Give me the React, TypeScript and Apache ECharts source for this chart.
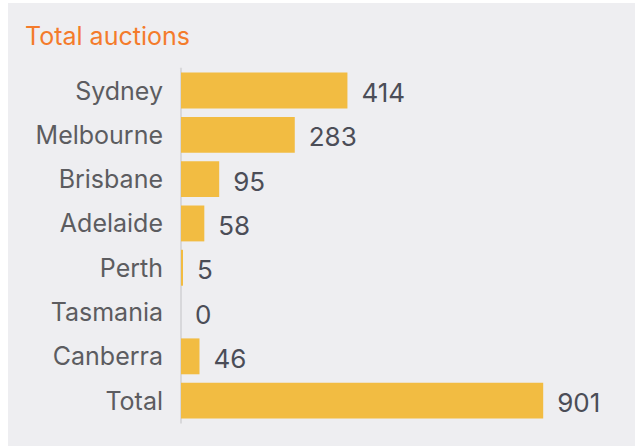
import React, { useEffect, useRef } from "react";
import * as echarts from "echarts";

const categories = ["Sydney", "Melbourne", "Brisbane", "Adelaide", "Perth", "Tasmania", "Canberra", "Total"];
const values = [414, 283, 95, 58, 5, 0, 46, 901];
const titleText = "Total auctions";

const FONT = "Inter, 'Open Sans', sans-serif";

export default function App() {
  const ref = useRef<HTMLDivElement>(null);
  useEffect(() => {
    if (!ref.current) return;
    const chart = echarts.init(ref.current, null, { renderer: "svg" });
    chart.setOption({
      animation: false,
      backgroundColor: "#eeeef1",
      title: {
        text: titleText,
        left: 12,
        top: 15,
        textStyle: { color: "#f47b2b", fontSize: 25, fontWeight: "normal", fontFamily: FONT },
      },
      grid: { left: 173, right: 52, top: 65.4, bottom: 23.2, containLabel: false },
      xAxis: {
        type: "value",
        min: 0,
        max: 1000,
        show: false,
      },
      yAxis: {
        type: "category",
        data: categories,
        inverse: true,
        axisLine: { show: true, lineStyle: { color: "#d8d8db", width: 2 } },
        axisTick: { show: false },
        splitLine: { show: false },
        axisLabel: {
          color: "#5c5c60",
          fontSize: 25,
          margin: 18,
          fontFamily: FONT,
        },
      },
      series: [
        {
          type: "bar",
          data: values,
          barCategoryGap: "19%",
          itemStyle: { color: "#f2bc42" },
          label: {
            show: true,
            position: "right",
            distance: 14,
            offset: [0, 2],
            color: "#4b4d57",
            fontSize: 26,
            fontFamily: FONT,
          },
        },
      ],
    });
    return () => chart.dispose();
  }, []);
  return (
    <div
      ref={ref}
      style={{ position: "absolute", left: 8, top: 3, width: 627, height: 443 }}
    />
  );
}
